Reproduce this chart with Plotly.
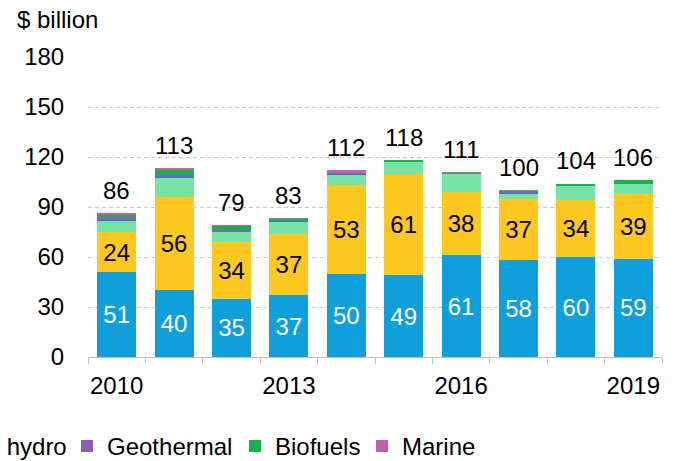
import plotly.graph_objects as go

# Investment by sector, $ billion
years = [2010, 2011, 2012, 2013, 2014, 2015, 2016, 2017, 2018, 2019]
wind = [51, 40, 35, 37, 50, 49, 61, 58, 60, 59]
solar = [24, 56, 34, 37, 53, 61, 38, 37, 34, 39]
biomass = [7.0, 11.5, 6.2, 7.0, 6.5, 7.2, 10.8, 3.0, 8.8, 5.8]
small_hydro = [0.5, 0.7, 0.3, 0.6, 0.6, 0.2, 0.2, 0.4, 0.2, 0.2]
geothermal = [1.5, 1.3, 0.8, 0.2, 0.3, 0.0, 0.0, 0.8, 0.0, 0.0]
biofuels = [1.5, 3.0, 2.3, 1.0, 0.5, 0.6, 0.8, 0.5, 1.0, 2.0]
marine = [0.5, 0.5, 0.4, 0.2, 1.1, 0.0, 0.2, 0.3, 0.0, 0.0]

series = [
    ("Wind", wind, "#0F9FDB"),
    ("Solar", solar, "#FFC820"),
    ("Biomass & waste", biomass, "#78E3A6"),
    ("Small hydro", small_hydro, "#1C86C6"),
    ("Geothermal", geothermal, "#8B5DBA"),
    ("Biofuels", biofuels, "#17B14F"),
    ("Marine", marine, "#C25FA6"),
]

FONT = "Liberation Sans, Arial, sans-serif"
FS = 24
W, H = 674, 461
ML, MR, MT, MB = 88, 12, 57, 103.5
PW = W - ML - MR
PH = H - MT - MB


def px_to_paper_x(px):
    return (px - ML) / PW


def px_to_paper_y(py):
    return (H - MB - py) / PH


# legend placement: each of the later entries gets its own legend box
legend_text_starts = {
    "Small hydro": -60,
    "Geothermal": 107,
    "Biofuels": 275,
    "Marine": 402,
}
legend_names = {"Small hydro": "legend2", "Geothermal": "legend3",
                "Biofuels": "legend4", "Marine": "legend5"}

fig = go.Figure()
for name, vals, color in series:
    if name == "Wind":
        kw = dict(text=[str(v) for v in vals], textposition="inside",
                  insidetextanchor="middle",
                  textfont=dict(color="white", size=FS, family=FONT))
    elif name == "Solar":
        kw = dict(text=[str(v) for v in vals], textposition="inside",
                  insidetextanchor="middle",
                  textfont=dict(color="black", size=FS, family=FONT))
    else:
        kw = dict(textposition="none")
    fig.add_trace(go.Bar(
        x=years, y=vals, name=name,
        marker=dict(color=color, line=dict(width=0)),
        legend=legend_names.get(name, "legend"),
        hoverinfo="skip",
        **kw,
    ))

totals = [sum(v) for v in zip(*[s[1] for s in series])]
for yr, tot in zip(years, totals):
    fig.add_annotation(x=yr, y=tot, text=str(round(tot)), showarrow=False,
                       yanchor="middle", yshift=23,
                       font=dict(size=FS, color="black", family=FONT))

fig.add_annotation(xref="paper", yref="paper", x=px_to_paper_x(15),
                   y=px_to_paper_y(19), xanchor="left", yanchor="middle",
                   text="$ billion", showarrow=False,
                   font=dict(size=FS, color="black", family=FONT))

legend_y = px_to_paper_y(447)
legend_common = dict(orientation="h", yanchor="middle", y=legend_y,
                     xanchor="left", bgcolor="rgba(0,0,0,0)", borderwidth=0,
                     font=dict(size=FS, color="black", family=FONT),
                     itemclick=False, itemdoubleclick=False, traceorder="normal")
layout_legends = {
    "legend": dict(legend_common, xanchor="right",
                   x=px_to_paper_x(-110)),
}
for name, lg in legend_names.items():
    layout_legends[lg] = dict(legend_common,
                              x=px_to_paper_x(legend_text_starts[name] - 40))

fig.update_layout(
    width=W, height=H,
    margin=dict(l=ML, r=MR, t=MT, b=MB, pad=0, autoexpand=False),
    barmode="stack", bargap=0.32,
    plot_bgcolor="white", paper_bgcolor="white",
    font=dict(family=FONT, size=FS, color="black"),
    showlegend=True,
    **layout_legends,
    xaxis=dict(
        range=[2009.5, 2019.5],
        tickvals=[2010, 2013, 2016, 2019],
        ticktext=["2010", "2013", "2016", "2019"],
        ticks="outside", ticklen=7, tickcolor="rgba(0,0,0,0)",
        showgrid=False, zeroline=False,
        showline=True, linecolor="#BFBFBF", linewidth=1,
        minor=dict(tickvals=[y + 0.5 for y in range(2009, 2020)],
                   ticks="outside", ticklen=6, tickcolor="#BFBFBF",
                   tickwidth=1, showgrid=False),
        tickfont=dict(size=FS, color="black", family=FONT),
        fixedrange=True,
    ),
    yaxis=dict(
        range=[0, 180], tickvals=[0, 30, 60, 90, 120, 150, 180],
        ticks="outside", ticklen=18, tickcolor="rgba(0,0,0,0)",
        showgrid=True, gridcolor="#C8C8C8", gridwidth=1, griddash="4px,3px",
        zeroline=False, showline=False,
        tickfont=dict(size=FS, color="black", family=FONT),
        fixedrange=True,
    ),
)

fig.write_html("out.html", config={"displayModeBar": False})
